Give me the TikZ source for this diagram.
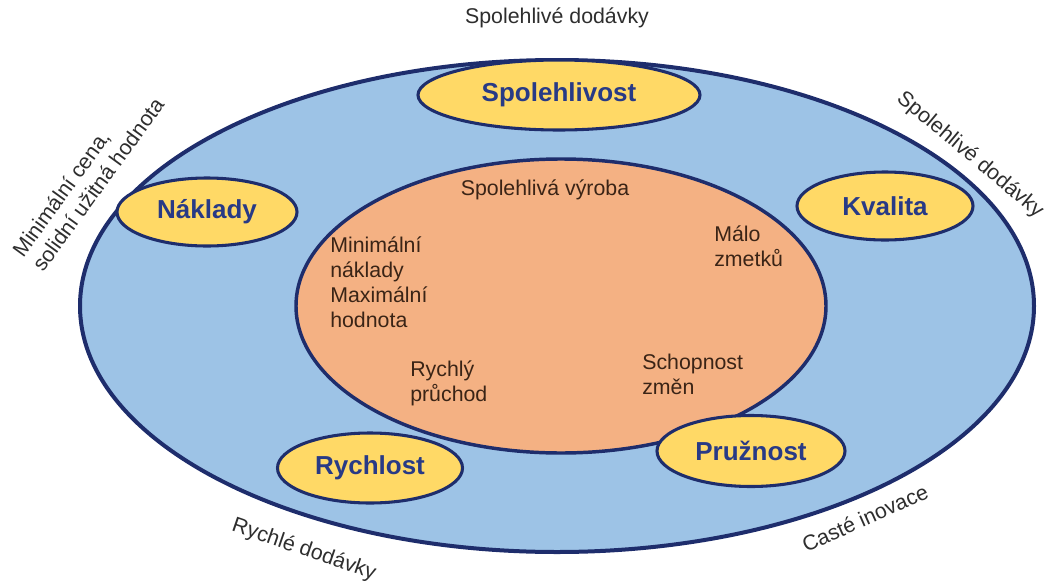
\documentclass[tikz,border=0pt]{standalone}
\usepackage{fontspec}
\setmainfont{Liberation Sans}
\usetikzlibrary{shapes.geometric}

\definecolor{rim}{HTML}{1E2D6C}
\definecolor{skyfill}{HTML}{9DC3E6}
\definecolor{corefill}{HTML}{F4B183}
\definecolor{goldfill}{HTML}{FFD966}
\definecolor{pillartext}{HTML}{283A86}
\definecolor{coretext}{HTML}{3A2416}
\definecolor{outtext}{HTML}{2E2E2E}

\begin{document}
\begin{tikzpicture}[x=0.75pt,y=-0.75pt,
  ring/.style={ellipse, draw=rim, inner sep=0pt},
  pillar/.style={ring, fill=goldfill, line width=2.3pt,
    font=\fontsize{19.5}{22}\selectfont\bfseries, text=pillartext},
  coreline/.style={font=\fontsize{16}{18.75}\selectfont, text=coretext,
    align=left, inner sep=0pt},
  outline/.style={font=\fontsize{16}{18.5}\selectfont, text=outtext,
    align=left, inner sep=0pt}]
\useasboundingbox (0,0) rectangle (1047,582);

% outer ring and core
\node[ring, fill=skyfill, line width=3pt,
  minimum width=715.5pt, minimum height=369pt] (outer) at (557,306) {};
\node[ring, fill=corefill, line width=2.6pt,
  minimum width=397.5pt, minimum height=220.5pt] (core) at (561,306) {};

% five pillars
\node[pillar, minimum width=211.5pt, minimum height=52.5pt] (spol) at (559,95) {Spolehlivost};
\node[pillar, minimum width=135pt, minimum height=51pt] (nakl) at (207,212) {Náklady};
\node[pillar, minimum width=132pt, minimum height=51pt] (kval) at (885,206) {Kvalita};
\node[pillar, minimum width=138.75pt, minimum height=52.5pt] (rych) at (370,468) {Rychlost};
\node[pillar, minimum width=141pt, minimum height=53.25pt] (pruz) at (751,451) {Pružnost};

% texts inside the core
\node[coreline] (vyroba) at (545,190) {Spolehlivá výroba};
\node[coreline, anchor=west] (hodnota) at (330,282) {Minimální\\náklady\\Maximální\\hodnota};
\node[coreline, anchor=west] (zmetky) at (714,246) {Málo\\zmetků};
\node[coreline, anchor=west] (pruchod) at (410,383) {Rychlý\\průchod};
\node[coreline, anchor=west] (zmeny) at (642,374) {Schopnost\\změn};

% texts around the outer ring
\node[outline] (top) at (557,18) {Spolehlivé dodávky};
\node[outline, rotate=54] (left) at (88,177) {Minimální cena,\\solidní užitná hodnota};
\node[outline, rotate=-40] (right) at (970,155) {Spolehlivé dodávky};
\node[outline, rotate=-19] (bottomleft) at (304,550) {Rychlé dodávky};
\node[outline, rotate=24] (bottomright) at (865,518) {Casté inovace};
\end{tikzpicture}
\end{document}
